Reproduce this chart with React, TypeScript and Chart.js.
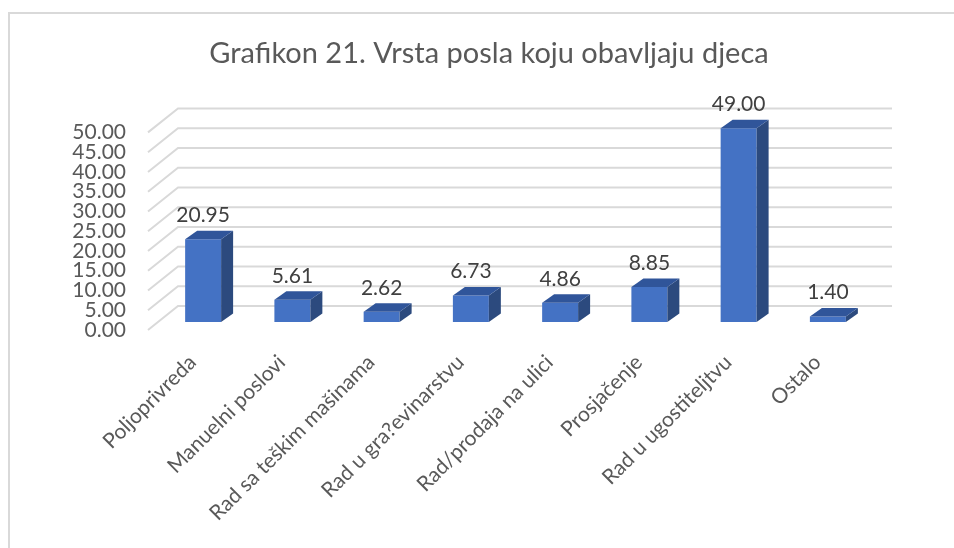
import React, { useEffect, useRef } from "react";
import { Chart, registerables } from "chart.js";

Chart.register(...registerables);

const TITLE = "Grafikon 21. Vrsta posla koju obavljaju djeca";
const CATEGORIES = [
  "Poljoprivreda",
  "Manuelni poslovi",
  "Rad sa teškim mašinama",
  "Rad u gra?evinarstvu",
  "Rad/prodaja na ulici",
  "Prosjačenje",
  "Rad u ugostiteljtvu",
  "Ostalo",
];
const VALUES = [20.95, 5.61, 2.62, 6.73, 4.86, 8.85, 49.0, 1.4];
const Y_MIN = 0;
const Y_MAX = 50;
const Y_STEP = 5;

const FONT = "Lato, 'Noto Sans', sans-serif";
const FRONT = "#4472C4";
const SIDE = "#2C4A7E";
const TOP = "#30559A";
const GRID = "#d9d9d9";

// 3D offsets (pixels)
const WALL_DX = 30;
const WALL_DY = -24;
const BAR_DX = 10.5;
const BAR_DY = -8;
const DEPTH_DX = 12;
const DEPTH_DY = -8.5;

const depth3D = {
  id: "depth3D",
  beforeDatasetsDraw(chart: any) {
    const { ctx, chartArea, scales } = chart;
    const y = scales.y;
    ctx.save();
    ctx.strokeStyle = GRID;
    ctx.lineWidth = 2;
    y.ticks.forEach((t: any) => {
      const py = y.getPixelForValue(t.value);
      ctx.beginPath();
      ctx.moveTo(chartArea.left, py);
      ctx.lineTo(chartArea.left + WALL_DX, py + WALL_DY);
      ctx.lineTo(chartArea.right + WALL_DX, py + WALL_DY);
      ctx.stroke();
    });
    ctx.restore();
    ctx.save();
    ctx.translate(BAR_DX, BAR_DY);
  },
  afterDatasetsDraw(chart: any) {
    const ctx = chart.ctx;
    const meta = chart.getDatasetMeta(0);
    const data = chart.data.datasets[0].data;
    meta.data.forEach((bar: any) => {
      const { x, y, base, width } = bar.getProps(["x", "y", "base", "width"], true);
      const l = x - width / 2;
      const r = x + width / 2;
      ctx.fillStyle = SIDE;
      ctx.beginPath();
      ctx.moveTo(r, y);
      ctx.lineTo(r + DEPTH_DX, y + DEPTH_DY);
      ctx.lineTo(r + DEPTH_DX, base + DEPTH_DY);
      ctx.lineTo(r, base);
      ctx.closePath();
      ctx.fill();
      ctx.fillStyle = TOP;
      ctx.beginPath();
      ctx.moveTo(l, y);
      ctx.lineTo(l + DEPTH_DX, y + DEPTH_DY);
      ctx.lineTo(r + DEPTH_DX, y + DEPTH_DY);
      ctx.lineTo(r, y);
      ctx.closePath();
      ctx.fill();
    });
    ctx.fillStyle = "#404040";
    ctx.font = `21px ${FONT}`;
    ctx.textAlign = "center";
    ctx.textBaseline = "alphabetic";
    meta.data.forEach((bar: any, i: number) => {
      const { x, y } = bar.getProps(["x", "y"], true);
      ctx.fillText(Number(data[i]).toFixed(2), x, y - 17);
    });
    ctx.restore();
  },
};

export default function App() {
  const ref = useRef<HTMLCanvasElement>(null);
  useEffect(() => {
    if (!ref.current) return;
    const chart = new Chart(ref.current, {
      type: "bar",
      data: {
        labels: CATEGORIES,
        datasets: [
          {
            data: VALUES,
            backgroundColor: FRONT,
            borderWidth: 0,
            barPercentage: 0.403,
            categoryPercentage: 1,
            clip: false as any,
          },
        ],
      },
      plugins: [depth3D],
      options: {
        responsive: false,
        animation: false,
        layout: { padding: { left: 16, right: 0, top: 0, bottom: 0 } },
        plugins: {
          legend: { display: false },
          tooltip: { enabled: false },
          title: {
            display: true,
            text: TITLE,
            color: "#595959",
            font: { family: FONT, size: 29, weight: "normal", lineHeight: 1.2 },
            padding: { top: 28.6, bottom: 61 },
          },
        },
        scales: {
          x: {
            grid: { display: false, drawTicks: false },
            border: { display: false },
            ticks: {
              color: "#595959",
              font: { family: FONT, size: 21 },
              maxRotation: 45,
              minRotation: 45,
              autoSkip: false,
              padding: 20,
            },
            afterFit: (s: any) => {
              s.height = 208;
            },
          },
          y: {
            min: Y_MIN,
            max: Y_MAX,
            grid: { display: false, drawTicks: false },
            border: { display: false },
            ticks: {
              stepSize: Y_STEP,
              autoSkip: false,
              color: "#595959",
              font: { family: FONT, size: 21 },
              padding: 22,
              callback: (v: any) => Number(v).toFixed(2),
            },
            afterFit: (s: any) => {
              s.width = 124;
            },
          },
          yRight: {
            position: "right",
            display: true,
            grid: { display: false, drawTicks: false },
            border: { display: false },
            ticks: { display: false },
            afterFit: (s: any) => {
              s.width = 92;
            },
          },
        },
      },
    } as any);
    return () => chart.destroy();
  }, []);

  return (
    <div>
      <div
        style={{
          position: "fixed",
          left: 8,
          top: 12,
          width: 2000,
          height: 2000,
          borderLeft: "2px solid #d9d9d9",
          borderTop: "2px solid #d9d9d9",
        }}
      />
      <canvas
        ref={ref}
        width={946}
        height={530}
        style={{ position: "fixed", left: 8, top: 8, width: 946, height: 530 }}
      />
    </div>
  );
}
